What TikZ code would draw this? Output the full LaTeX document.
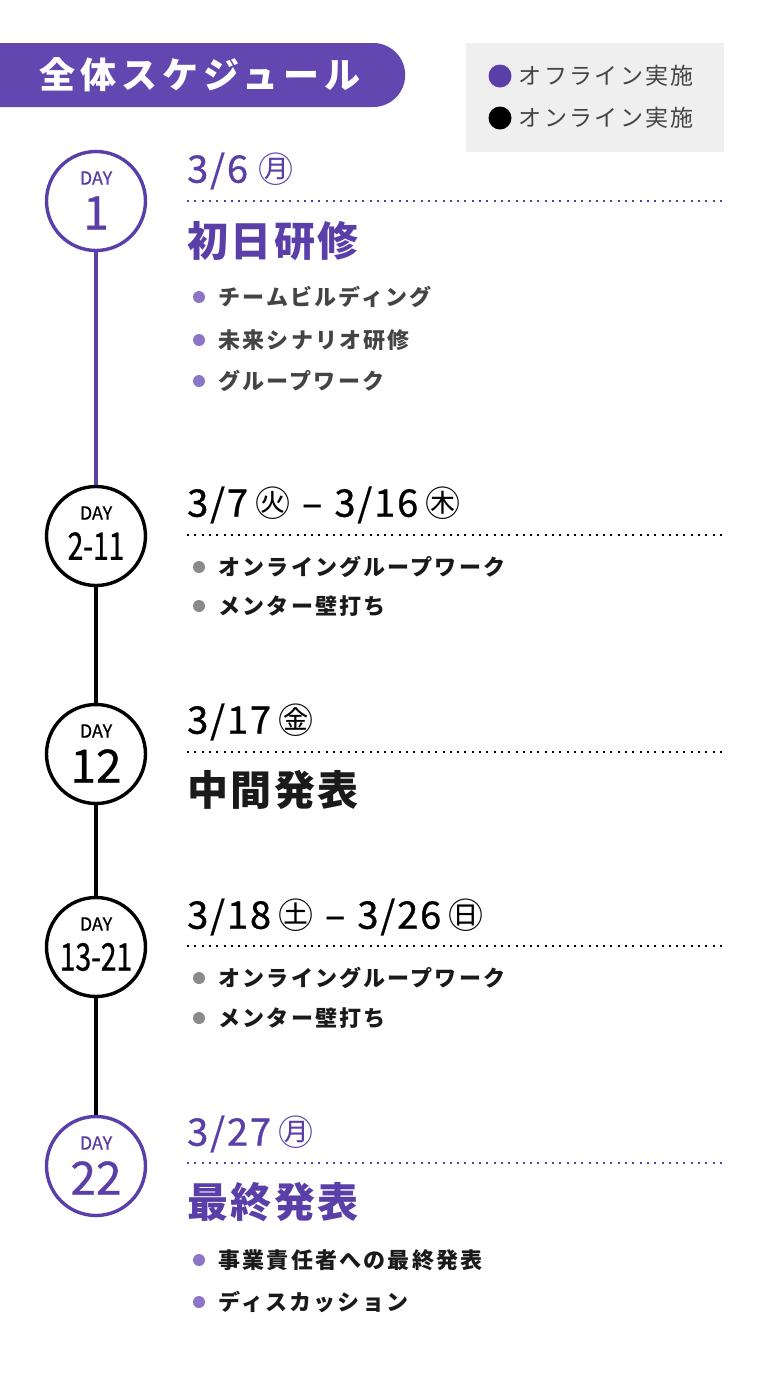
\documentclass[tikz,border=0pt]{standalone}
\usepackage{fontspec}
\setmainfont{Noto Sans CJK JP}
\newfontfamily\numfont{Noto Sans CJK JP}[FakeBold=0.8]
\newfontfamily\narrowfont{Noto Sans CJK JP}[FakeStretch=0.74, FakeBold=0.8]
\usetikzlibrary{positioning,shapes.misc}
\definecolor{headpurple}{HTML}{6247B1}
\definecolor{mainpurple}{HTML}{5B3FA9}
\definecolor{dotpurple}{HTML}{8B75C9}
\definecolor{dotgray}{HTML}{8A8A8A}
\definecolor{textgray}{HTML}{444444}
\definecolor{textblack}{HTML}{1A1A1A}
\definecolor{legendgray}{HTML}{EFEFEF}
\newcommand\sizept[1]{\fontsize{#1}{#1}\selectfont}
\newcommand\wday[1]{{\rmfamily\sizept{35}#1}}

\tikzset{
  daycircle/.style={circle, draw=#1, line width=3.4pt, minimum size=99pt, inner sep=0pt, fill=white},
  daylabel/.style={inner sep=0pt, text=#1, font=\numfont\sizept{18}},
  daynum/.style={inner sep=0pt, text=#1, font=\numfont\sizept{46}},
  daynums/.style={inner sep=0pt, text=#1, font=\narrowfont\sizept{38}},
  datetext/.style={anchor=west, inner sep=0pt, text=#1, font=\numfont\sizept{38}\addfontfeature{LetterSpace=5}},
  titletext/.style={anchor=west, inner sep=0pt, text=#1, font=\bfseries\sizept{41}\addfontfeature{LetterSpace=6}},
  itemdot/.style={circle, fill=#1, inner sep=0pt, minimum size=12pt},
  itemtext/.style={anchor=west, inner sep=0pt, text=#1, font=\bfseries\sizept{22}\addfontfeature{LetterSpace=10}},
  legendtext/.style={anchor=west, inner sep=0pt, text=textgray, font=\sizept{23}\addfontfeature{LetterSpace=10}},
  dotline/.style={draw=#1, line width=2pt, dash pattern=on 2pt off 5.3pt},
  timeline/.style={draw=#1, line width=3.4pt},
}

\begin{document}
\begin{tikzpicture}[x=1pt, y=-1pt]
  \useasboundingbox (0,0) rectangle (768,1377);

  % header and legend
  \node (head) [rounded rectangle, rounded rectangle west arc=none, fill=headpurple, minimum height=64pt, minimum width=405pt, inner sep=0pt, anchor=west, text=white, font=\bfseries\sizept{36}\addfontfeature{LetterSpace=14}] at (0,75) {全体スケジュール};
  \node (legend) [fill=legendgray, minimum width=258pt, minimum height=109pt, inner sep=0pt] at (595,97.5) {};
  \node (offdot) [circle, fill=mainpurple, minimum size=23pt, inner sep=0pt] at (500,76) {};
  \node (off) [legendtext, right=7pt of offdot] {オフライン実施};
  \node (ondot) [circle, fill=black, minimum size=23pt, inner sep=0pt] at (500,118) {};
  \node (on) [legendtext, right=7pt of ondot] {オンライン実施};

  % day circles
  \node (day1) [daycircle=mainpurple] at (96,201) {};
  \node (day2) [daycircle=black] at (96,536) {};
  \node (day12) [daycircle=black] at (96,754) {};
  \node (day13) [daycircle=black] at (96,947) {};
  \node (day22) [daycircle=mainpurple] at (96,1166) {};

  \draw[timeline=mainpurple] (day1) -- (day2);
  \draw[timeline=black] (day2) -- (day12);
  \draw[timeline=black] (day12) -- (day13);
  \draw[timeline=black] (day13) -- (day22);

  \node (day1 top) [daylabel=mainpurple] at ([yshift=23pt]day1.center) {DAY};
  \node (day1 num) [daynum=mainpurple] at ([yshift=-12pt]day1.center) {1};
  \node (day2 top) [daylabel=black] at ([yshift=23pt]day2.center) {DAY};
  \node (day2 num) [daynums=black] at ([yshift=-10pt]day2.center) {2-11};
  \node (day12 top) [daylabel=black] at ([yshift=23pt]day12.center) {DAY};
  \node (day12 num) [daynum=black] at ([yshift=-12pt]day12.center) {12};
  \node (day13 top) [daylabel=black] at ([yshift=23pt]day13.center) {DAY};
  \node (day13 num) [daynums=black] at ([yshift=-10pt]day13.center) {13-21};
  \node (day22 top) [daylabel=mainpurple] at ([yshift=23pt]day22.center) {DAY};
  \node (day22 num) [daynum=mainpurple] at ([yshift=-12pt]day22.center) {22};

  % day 1
  \node (date1) [datetext=mainpurple] at (187,171) {3/6\hspace{10pt}\wday{㊊}};
  \draw[dotline=mainpurple] (187,201) -- (724,201);
  \node (title1) [titletext=mainpurple] at (187,241) {初日研修};
  \node (b11) [itemdot=dotpurple] at (199,297) {};
  \node (i11) [itemtext=textgray, right=13pt of b11] {チームビルディング};
  \node (b12) [itemdot=dotpurple] at (199,340) {};
  \node (i12) [itemtext=textgray, right=13pt of b12] {未来シナリオ研修};
  \node (b13) [itemdot=dotpurple] at (199,381) {};
  \node (i13) [itemtext=textgray, right=13pt of b13] {グループワーク};

  % day 2-11
  \node (date2) [datetext=black] at (187,505) {3/7\hspace{7pt}\wday{㊋}\hspace{12pt}–\hspace{12pt}3/16\hspace{7pt}\wday{㊍}};
  \draw[dotline=black] (187,535) -- (724,535);
  \node (b21) [itemdot=dotgray] at (199,567) {};
  \node (i21) [itemtext=textblack, right=13pt of b21] {オンライングループワーク};
  \node (b22) [itemdot=dotgray] at (199,606) {};
  \node (i22) [itemtext=textblack, right=13pt of b22] {メンター壁打ち};

  % day 12
  \node (date12) [datetext=black] at (187,722) {3/17\hspace{7pt}\wday{㊎}};
  \draw[dotline=black] (187,752) -- (724,752);
  \node (title12) [titletext=textblack] at (187,790) {中間発表};

  % day 13-21
  \node (date13) [datetext=black] at (187,917) {3/18\hspace{7pt}\wday{㊏}\hspace{12pt}–\hspace{12pt}3/26\hspace{7pt}\wday{㊐}};
  \draw[dotline=black] (187,946) -- (724,946);
  \node (b31) [itemdot=dotgray] at (199,978) {};
  \node (i31) [itemtext=textblack, right=13pt of b31] {オンライングループワーク};
  \node (b32) [itemdot=dotgray] at (199,1018) {};
  \node (i32) [itemtext=textblack, right=13pt of b32] {メンター壁打ち};

  % day 22
  \node (date22) [datetext=mainpurple] at (187,1134) {3/27\hspace{7pt}\wday{㊊}};
  \draw[dotline=mainpurple] (187,1163) -- (724,1163);
  \node (title22) [titletext=mainpurple] at (187,1202) {最終発表};
  \node (b41) [itemdot=dotpurple] at (199,1260) {};
  \node (i41) [itemtext=textblack, right=13pt of b41] {事業責任者への最終発表};
  \node (b42) [itemdot=dotpurple] at (199,1302) {};
  \node (i42) [itemtext=textblack, right=13pt of b42] {ディスカッション};
\end{tikzpicture}
\end{document}
